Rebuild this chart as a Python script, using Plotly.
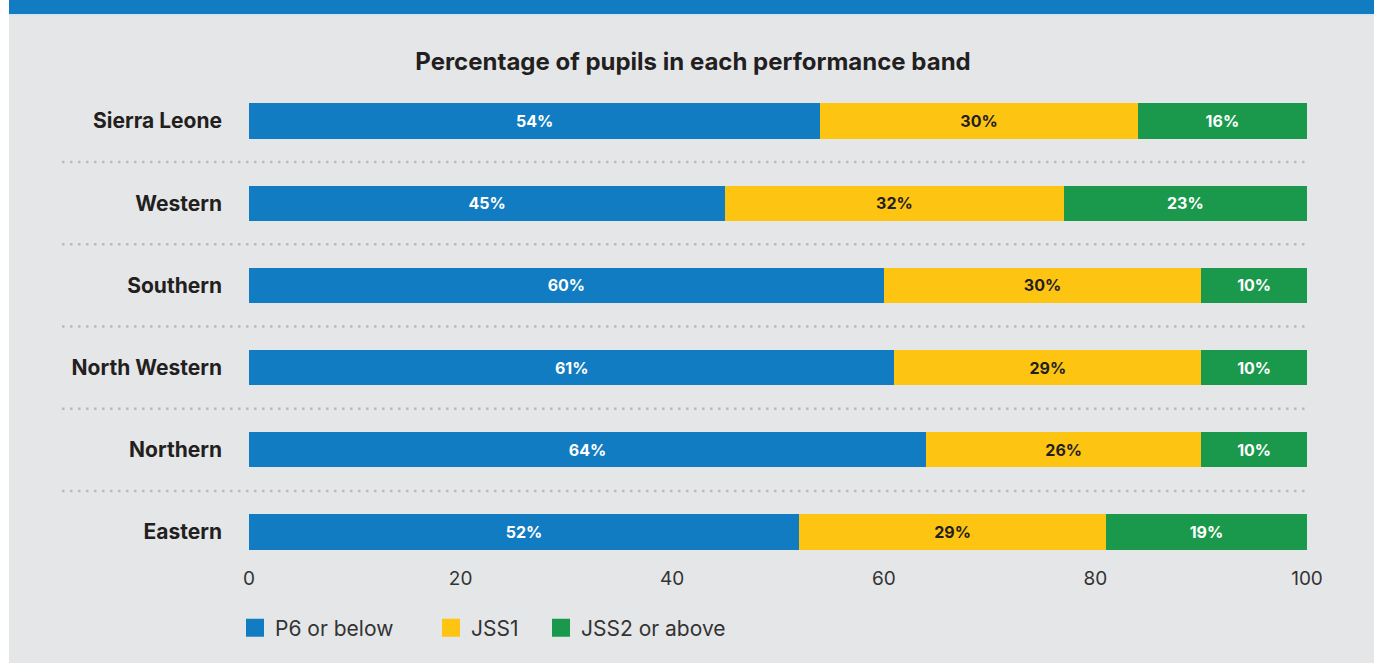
import plotly.graph_objects as go

regions = ["Sierra Leone", "Western", "Southern", "North Western", "Northern", "Eastern"]
series_names = ["P6 or below", "JSS1", "JSS2 or above"]
p6_or_below = [54, 45, 60, 61, 64, 52]
jss1 = [30, 32, 30, 29, 26, 29]
jss2_or_above = [16, 23, 10, 10, 10, 19]
x_ticks = [0, 20, 40, 60, 80, 100]

colors = ["#117cc1", "#fec412", "#1a994d"]
text_colors = ["#ffffff", "#231f20", "#ffffff"]
FONT = "Inter, 'Open Sans', sans-serif"

W, H = 1374, 663
L, R, T, B = 249, 1307, 95, 560
pw, ph = R - L, B - T

def px_x(p):
    return (p - L) / pw

def px_y(p):
    return (B - p) / ph

legend_ids = ["legend", "legend2", "legend3"]
legend_x_px = [235, 431, 541]

fig = go.Figure()
for name, vals, c, tc, lg in zip(series_names, [p6_or_below, jss1, jss2_or_above], colors, text_colors, legend_ids):
    fig.add_trace(go.Bar(
        y=regions, x=vals, orientation="h", name=name,
        marker=dict(color=c, line=dict(width=0)),
        width=0.426,
        text=[f"{v}%" for v in vals], textposition="inside",
        insidetextanchor="middle", textangle=0,
        textfont=dict(family=FONT, size=16, color=tc, weight="bold"),
        showlegend=False, hoverinfo="skip",
    ))
    fig.add_trace(go.Scatter(
        x=[None], y=[None], mode="markers", name=name, legend=lg,
        marker=dict(symbol="square", size=16, color=c, line=dict(color=c, width=2)),
        showlegend=True,
    ))

shapes = []
# white left strip
shapes.append(dict(type="rect", xref="paper", yref="paper", x0=px_x(-20), x1=px_x(9),
                   y0=px_y(H + 20), y1=px_y(-20), fillcolor="#ffffff", line=dict(width=0), layer="below"))
# top blue band
shapes.append(dict(type="rect", xref="paper", yref="paper", x0=px_x(9), x1=px_x(W + 20),
                   y0=px_y(14), y1=px_y(-20), fillcolor="#117cc1", line=dict(width=0), layer="below"))
shapes.append(dict(type="rect", xref="paper", yref="paper", x0=px_x(9), x1=px_x(W + 20),
                   y0=px_y(15.5), y1=px_y(14), fillcolor="#d3e3f1", line=dict(width=0), layer="below"))
# dotted separators
for i in range(len(regions) - 1):
    shapes.append(dict(type="line", xref="paper", yref="y", x0=px_x(62), x1=1.0,
                       y0=i + 0.5, y1=i + 0.5,
                       line=dict(color="#b8bbbf", width=2.5, dash="2.5px,5.5px"), layer="below"))

# y range so category 0 centers at 121px, category spacing 82.2px
unit = 82.2
r0 = -(121 - T) / unit
r1 = r0 + ph / unit

legend_style = dict(orientation="h", xanchor="left", y=px_y(628), yanchor="middle",
                    font=dict(family=FONT, size=21, color="#333333"), bgcolor="rgba(0,0,0,0)",
                    itemclick=False, itemdoubleclick=False)

fig.update_layout(
    width=W, height=H,
    barmode="stack",
    paper_bgcolor="#e5e6e8", plot_bgcolor="rgba(0,0,0,0)",
    margin=dict(l=L, r=W - R, t=T, b=H - B, pad=0),
    title=dict(text="<b>Percentage of pupils in each performance band</b>",
               x=693 / W, xref="container", xanchor="center",
               y=1 - 62 / H, yref="container", yanchor="middle",
               font=dict(family=FONT, size=24, color="#231f20")),
    xaxis=dict(range=[0, 100], tickvals=x_ticks, showgrid=False, zeroline=False,
               showline=False, ticks="", ticklabelstandoff=5,
               tickfont=dict(family=FONT, size=19, color="#333333"), fixedrange=True),
    yaxis=dict(range=[r1, r0], showgrid=False, zeroline=False, showline=False,
               ticks="", ticklabelstandoff=26,
               tickfont=dict(family=FONT, size=21, color="#231f20", weight="bold")),
    legend=dict(x=px_x(legend_x_px[0]), **legend_style),
    legend2=dict(x=px_x(legend_x_px[1]), **legend_style),
    legend3=dict(x=px_x(legend_x_px[2]), **legend_style),
    shapes=shapes,
    showlegend=True,
)

fig.write_html("out.html", config={"displayModeBar": False},
               post_script="document.body.style.margin='0px';document.body.style.overflow='hidden';")
